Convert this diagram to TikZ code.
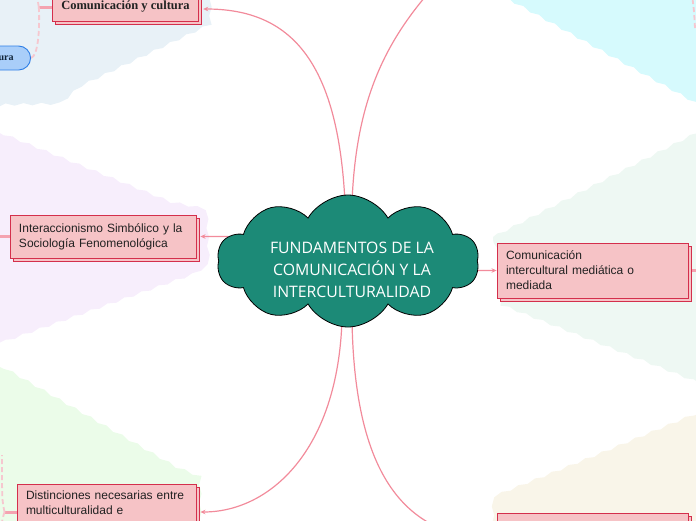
\documentclass[tikz,border=0pt]{standalone}
\usepackage{fontspec}
\setmainfont{Liberation Sans}
\newfontfamily\cloudfont{Open Sans}
\newfontfamily\titlefont{Liberation Serif}
\usetikzlibrary{shapes.symbols,shadows,decorations.pathmorphing,arrows.meta,calc}
\pgfdeclarelayer{bg}\pgfdeclarelayer{mid}\pgfsetlayers{bg,mid,main}
\definecolor{rblue}{HTML}{E8F1F7}
\definecolor{rcyan}{HTML}{D6FAFD}
\definecolor{rpurple}{HTML}{F7EEFC}
\definecolor{rgreen}{HTML}{EBFCE9}
\definecolor{rmint}{HTML}{EEF8F3}
\definecolor{rbeige}{HTML}{F9F5E9}
\definecolor{connpink}{HTML}{F28B9B}
\definecolor{stubpink}{HTML}{F4A3B0}
\definecolor{faintpink}{HTML}{F6C7CF}
\definecolor{boxfill}{HTML}{F6C3C6}
\definecolor{boxline}{HTML}{D42F4C}
\definecolor{cloudfill}{HTML}{1C8A77}
\definecolor{textdark}{HTML}{222222}
\definecolor{pillfill}{HTML}{A9CEF9}
\definecolor{pillline}{HTML}{2F7FE6}
\definecolor{navy}{HTML}{10243A}
\tikzset{
  region/.style={decorate,decoration={snake,amplitude=1.2pt,segment length=18pt}},
  topic/.style={draw=boxline, fill=boxfill, line width=0.9pt, inner xsep=9pt, inner ysep=4pt,
    align=left, copy shadow={shadow xshift=3pt,shadow yshift=-3pt},
    font=\fontsize{12}{15}\selectfont, text=textdark},
  pill/.style={draw=pillline, fill=pillfill, rounded corners=12pt, line width=0.9pt,
    minimum height=24pt, text width=40pt, align=right, inner xsep=17pt,
    font=\titlefont\bfseries\fontsize{10}{12}\selectfont, text=navy},
  conn/.style={draw=connpink, line width=1.2pt, -{Stealth[length=5pt,width=4.5pt]}},
  stub/.style={draw=stubpink, line width=3pt},
  dashpink/.style={draw=faintpink, line width=1.8pt, dash pattern=on 5pt off 3pt},
  cloudbox/.style={cloud, cloud puffs=10, cloud puff arc=120, aspect=2, draw=black, line width=0.8pt,
    fill=cloudfill, minimum width=262pt, minimum height=132pt},
  cloudtext/.style={text=white, align=center, font=\cloudfont\fontsize{15.8}{22}\selectfont}
}
\begin{document}
\begin{tikzpicture}[x=1pt,y=-1pt]
\useasboundingbox (0,0) rectangle (696,520);
\begin{pgfonlayer}{bg}
\fill[rblue, region] (-10,-10) -- (205,-10) -- (205,28) -- (75,90) -- (55,107) -- (0,108) -- (-10,110) -- cycle;
\fill[rcyan, region] (495,-10) -- (710,-10) -- (710,110) -- (696,107) -- (503,0) -- cycle;
\fill[rpurple, region] (-10,130) -- (0,133) -- (165,200) -- (200,207) -- (202,262) -- (185,272) -- (0,338) -- (-10,340) -- cycle;
\fill[rgreen, region] (-10,365) -- (0,367) -- (175,468) -- (200,478) -- (200,530) -- (-10,530) -- cycle;
\fill[rmint, region] (493,237) -- (696,133) -- (710,130) -- (710,390) -- (696,387) -- (493,307) -- cycle;
\fill[rbeige, region] (493,530) -- (493,505) -- (600,462) -- (696,422) -- (710,420) -- (710,530) -- cycle;
\end{pgfonlayer}

\node[cloudbox] (cl) at (348,261) {};
\node[cloudtext] (clt) at (352,270) {FUNDAMENTOS DE LA\\COMUNICACIÓN Y LA\\INTERCULTURALIDAD};

\node[topic, font=\titlefont\bfseries\fontsize{12.5}{15}\selectfont, minimum width=141pt, minimum height=28pt, align=center] (cc) at (125.5,7) {Comunicación y cultura};
\node[pill, anchor=east] (pl) at (31,58) {ura};
\node[topic, text width=168pt, minimum height=43pt] (ia) at (103,236.5) {Interaccionismo Simbólico y la\\Sociología Fenomenológica};
\node[topic, text width=173pt, minimum height=55pt] (ci) at (592.5,270.5) {Comunicación\\intercultural mediática o\\mediada};
\node[topic, text width=161pt, minimum height=56pt] (dc) at (106.5,512) {Distinciones necesarias entre\\multiculturalidad e\\\strut};
\node[topic, minimum width=191pt, minimum height=50pt, anchor=north west] (br) at (497,513) {};
\coordinate (trEnd) at (440,-20);
\coordinate (trd) at (695,28);

\begin{pgfonlayer}{mid}
\draw[conn] ($(cl.north)+(-3,8)$) .. controls (338,60) and (290,9) .. ([xshift=4pt,yshift=-2pt]cc.east);
\draw[conn] ($(cl.north)+(4,8)$) .. controls (356,100) and (385,40) .. (trEnd);
\draw[conn] ($(cl.west)+(10,-24.5)$) -- ([xshift=4pt]ia.east);
\draw[conn] ($(cl.east)+(-10,9.5)$) -- (ci.west);
\draw[conn] ($(cl.south)+(-6,-8)$) .. controls (338,450) and (270,512) .. ([xshift=4pt]dc.east);
\draw[conn] ($(cl.south)+(4,-8)$) .. controls (354,450) and (390,538) .. (br.west);
\draw[stub] (cc.west) -- ++(-13,0) coordinate (ccj);
\draw[dashpink] (ccj) .. controls (40,30) and (38,56) .. (pl.east);
\draw[dashpink] (ccj) -- ++(-2,-12);
\draw[stub] (ia.west) -- ++(-12,0);
\draw[stub] (ci.east) -- ++(12,0);
\draw[stub] (dc.west) -- ++(-12,0) coordinate (dcj);
\draw[dashpink] (dcj) .. controls (2,500) .. (2,455);
\draw[dashpink] (dcj) .. controls (2,520) .. (2,530);
\draw[dashpink] (trd) .. controls (694,10) .. (692,-5);
\end{pgfonlayer}
\end{tikzpicture}
\end{document}
